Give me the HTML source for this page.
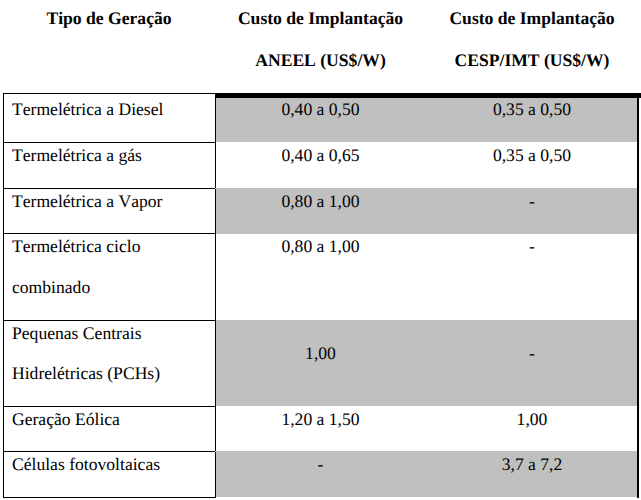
<!DOCTYPE html>
<html>
<head>
<meta charset="utf-8">
<style>
html,body{margin:0;padding:0;background:#fff;}
body{width:641px;height:500px;position:relative;overflow:hidden;font-family:"Liberation Serif",serif;font-size:17.6px;line-height:20px;color:#000;text-rendering:geometricPrecision;font-kerning:none;}
.t{position:absolute;white-space:nowrap;}
.b{font-weight:bold;}
.c1{left:3px;width:212px;text-align:center;}
.c2{left:216px;width:209px;text-align:center;}
.c3{left:426.5px;width:211px;text-align:center;}
.l1{left:12px;}
.g{position:absolute;left:216px;width:421px;background:#c0c0c0;}
.hl{position:absolute;left:3px;width:213px;height:1px;background:#000;}
.vl{position:absolute;width:1px;background:#000;}
</style>
</head>
<body>
<!-- grey shading -->
<div class="g" style="top:98px;height:44px"></div>
<div class="g" style="top:188px;height:46px"></div>
<div class="g" style="top:320px;height:86px"></div>
<div class="g" style="top:451px;height:46px"></div>

<!-- borders -->
<div style="position:absolute;left:215px;top:93px;width:426px;height:5px;background:#000"></div>
<div class="hl" style="top:93px"></div>
<div class="hl" style="top:142px"></div>
<div class="hl" style="top:188px"></div>
<div class="hl" style="top:233px"></div>
<div class="hl" style="top:320px"></div>
<div class="hl" style="top:406px"></div>
<div class="hl" style="top:451px"></div>
<div class="hl" style="top:497px"></div>
<div class="vl" style="left:3px;top:93px;height:405px"></div>
<div class="vl" style="left:215px;top:93px;height:405px"></div>
<div class="vl" style="left:637px;top:93px;height:405px;width:2px"></div>

<div style="position:absolute;left:215px;top:188px;width:1px;height:1px;background:#d4d4d4"></div>
<div style="position:absolute;left:215px;top:451px;width:1px;height:1px;background:#d4d4d4"></div>

<!-- header -->
<div class="t b c1" style="top:8px">Tipo de Geração</div>
<div class="t b c2" style="top:8px">Custo de Implantação</div>
<div class="t b c2" style="top:50px">ANEEL (US$/W)</div>
<div class="t b c3" style="top:8px">Custo de Implantação</div>
<div class="t b c3" style="top:50px">CESP/IMT (US$/W)</div>

<!-- row 1 -->
<div class="t l1" style="top:99px">Termelétrica a Diesel</div>
<div class="t c2" style="top:99px">0,40 a 0,50</div>
<div class="t c3" style="top:99px">0,35 a 0,50</div>
<!-- row 2 -->
<div class="t l1" style="top:145px">Termelétrica a gás</div>
<div class="t c2" style="top:145px">0,40 a 0,65</div>
<div class="t c3" style="top:145px">0,35 a 0,50</div>
<!-- row 3 -->
<div class="t l1" style="top:191px">Termelétrica a Vapor</div>
<div class="t c2" style="top:191px">0,80 a 1,00</div>
<div class="t c3" style="top:191px">-</div>
<!-- row 4 -->
<div class="t l1" style="top:236px">Termelétrica ciclo</div>
<div class="t l1" style="top:276.5px">combinado</div>
<div class="t c2" style="top:236px">0,80 a 1,00</div>
<div class="t c3" style="top:236px">-</div>
<!-- row 5 -->
<div class="t l1" style="top:323px">Pequenas Centrais</div>
<div class="t l1" style="top:363px">Hidrelétricas (PCHs)</div>
<div class="t c2" style="top:343px">1,00</div>
<div class="t c3" style="top:343px">-</div>
<!-- row 6 -->
<div class="t l1" style="top:409px">Geração Eólica</div>
<div class="t c2" style="top:409px">1,20 a 1,50</div>
<div class="t c3" style="top:409px">1,00</div>
<!-- row 7 -->
<div class="t l1" style="top:454px">Células fotovoltaicas</div>
<div class="t c2" style="top:454px">-</div>
<div class="t c3" style="top:454px">3,7 a 7,2</div>
</body>
</html>
